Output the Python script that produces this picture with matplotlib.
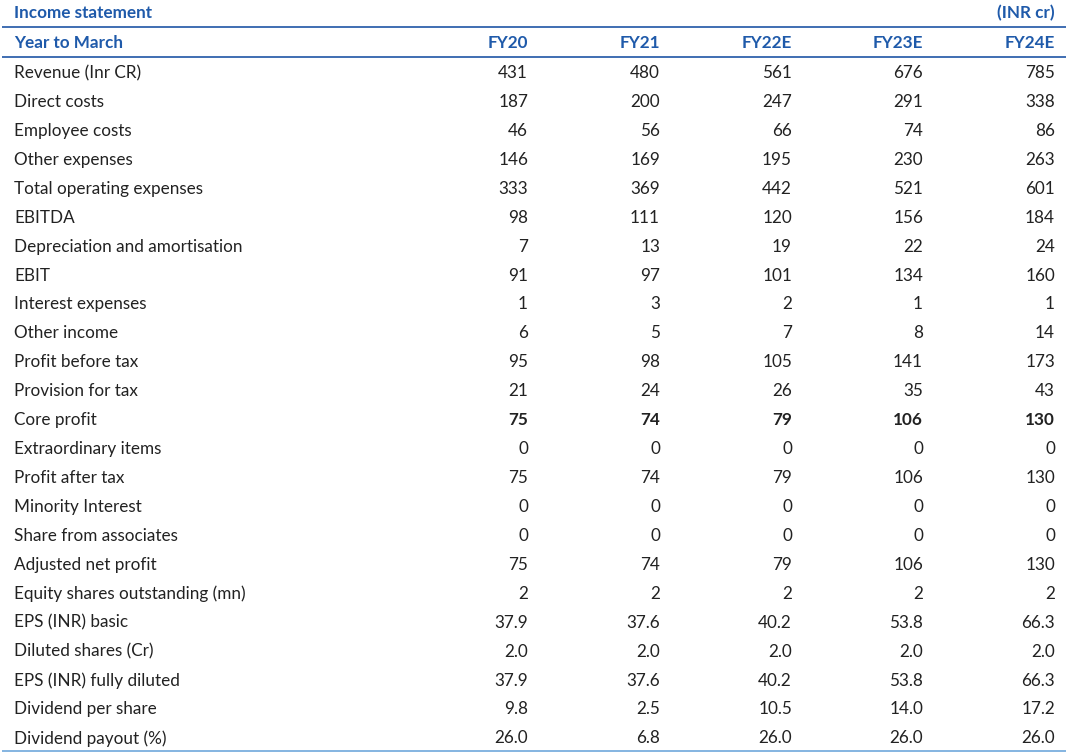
import matplotlib
matplotlib.use("Agg")
import matplotlib.pyplot as plt

title = "Income statement"
unit = "(INR cr)"
header_label = "Year to March"
years = ["FY20", "FY21", "FY22E", "FY23E", "FY24E"]

row_labels = [
    "Revenue (Inr CR)", "Direct costs", "Employee costs", "Other expenses",
    "Total operating expenses", "EBITDA", "Depreciation and amortisation", "EBIT",
    "Interest expenses", "Other income", "Profit before tax", "Provision for tax",
    "Core profit", "Extraordinary items", "Profit after tax", "Minority Interest",
    "Share from associates", "Adjusted net profit", "Equity shares outstanding (mn)",
    "EPS (INR) basic", "Diluted shares (Cr)", "EPS (INR) fully diluted",
    "Dividend per share", "Dividend payout (%)",
]

fy20 = ["431", "187", "46", "146", "333", "98", "7", "91", "1", "6", "95", "21", "75", "0", "75", "0", "0", "75", "2", "37.9", "2.0", "37.9", "9.8", "26.0"]
fy21 = ["480", "200", "56", "169", "369", "111", "13", "97", "3", "5", "98", "24", "74", "0", "74", "0", "0", "74", "2", "37.6", "2.0", "37.6", "2.5", "6.8"]
fy22 = ["561", "247", "66", "195", "442", "120", "19", "101", "2", "7", "105", "26", "79", "0", "79", "0", "0", "79", "2", "40.2", "2.0", "40.2", "10.5", "26.0"]
fy23 = ["676", "291", "74", "230", "521", "156", "22", "134", "1", "8", "141", "35", "106", "0", "106", "0", "0", "106", "2", "53.8", "2.0", "53.8", "14.0", "26.0"]
fy24 = ["785", "338", "86", "263", "601", "184", "24", "160", "1", "14", "173", "43", "130", "0", "130", "0", "0", "130", "2", "66.3", "2.0", "66.3", "17.2", "26.0"]
bold_rows = ["Core profit"]

columns = [fy20, fy21, fy22, fy23, fy24]

W, H = 1071, 756
fig = plt.figure(figsize=(W / 100, H / 100), dpi=100)
ax = fig.add_axes([0, 0, 1, 1])
ax.set_xlim(0, W)
ax.set_ylim(H, 0)
ax.axis("off")

FONT = "Lato"
FS = 12.3
BLUE = "#1F5AAA"
DARK = "#222222"

col_right = [528, 660, 792, 923, 1055]
label_x = 14
y_title = 13
y_head = 43
y0 = 73
dy = 28.93

ax.text(label_x, y_title, title, ha="left", va="center", fontsize=FS, fontweight="bold", color=BLUE, family=FONT)
ax.text(col_right[-1], y_title, unit, ha="right", va="center", fontsize=FS, fontweight="bold", color=BLUE, family=FONT)
ax.plot([2, 1066], [26.5, 26.5], color="#1F55A5", lw=1.2, solid_capstyle="butt")
ax.text(label_x, y_head, header_label, ha="left", va="center", fontsize=FS, fontweight="bold", color=BLUE, family=FONT)
for x, yr in zip(col_right, years):
    ax.text(x, y_head, yr, ha="right", va="center", fontsize=FS, fontweight="bold", color=BLUE, family=FONT)
ax.plot([2, 1066], [56.5, 56.5], color="#1F55A5", lw=1.2, solid_capstyle="butt")

for i, lab in enumerate(row_labels):
    y = y0 + i * dy
    ax.text(label_x, y, lab, ha="left", va="center", fontsize=FS, color=DARK, family=FONT)
    wt = "bold" if lab in bold_rows else "normal"
    for x, col in zip(col_right, columns):
        ax.text(x, y, col[i], ha="right", va="center", fontsize=FS, color=DARK, fontweight=wt, family=FONT)

ax.plot([2, 1066], [750.5, 750.5], color="#6FA8DC", lw=1.2, solid_capstyle="butt")

fig.savefig("out.png", dpi=100, facecolor="white")
